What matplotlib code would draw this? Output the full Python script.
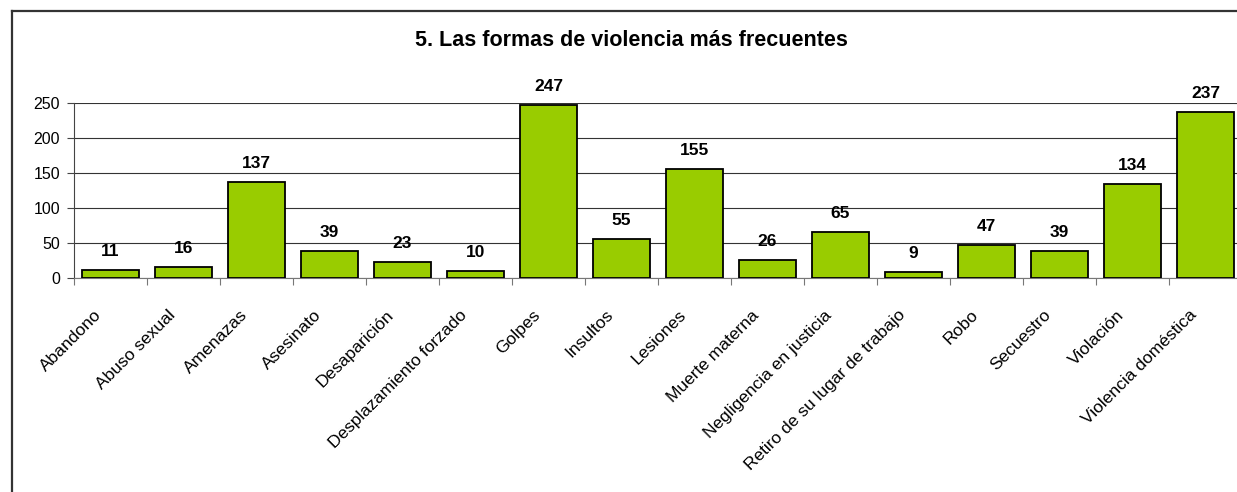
import matplotlib.pyplot as plt
from matplotlib.lines import Line2D
from matplotlib.transforms import ScaledTranslation

plt.rcParams['font.family'] = ['Liberation Sans', 'DejaVu Sans']

categorias = ["Abandono", "Abuso sexual", "Amenazas", "Asesinato", "Desaparición",
              "Desplazamiento forzado", "Golpes", "Insultos", "Lesiones", "Muerte materna",
              "Negligencia en justicia", "Retiro de su lugar de trabajo", "Robo",
              "Secuestro", "Violación", "Violencia doméstica"]
valores = [11, 16, 137, 39, 23, 10, 247, 55, 155, 26, 65, 9, 47, 39, 134, 237]
yticks = [0, 50, 100, 150, 200, 250]

fig = plt.figure(figsize=(12.37, 4.92), dpi=100)
ax = fig.add_axes([74 / 1237, 0.435, 1168 / 1237, 0.3557])

x = range(len(valores))
ax.bar(x, valores, width=0.77, color='#99CC00', edgecolor='black', linewidth=1.3, zorder=3)

for i, v in enumerate(valores):
    ax.annotate(str(v), (i, v), xytext=(0, 8), textcoords='offset points',
                ha='center', va='bottom', fontsize=12.5, fontweight='bold',
                annotation_clip=False)

ax.set_xlim(-0.5, len(valores) - 0.5)
ax.set_ylim(0, 250)
ax.set_yticks(yticks)
ax.yaxis.grid(True, color='#333333', linewidth=0.8, zorder=0)
ax.tick_params(axis='y', labelsize=11.5, direction='out', length=5, color='#444444', pad=5)

ax.set_xticks([i - 0.5 for i in range(len(valores) + 1)])
ax.set_xticklabels([])
ax.tick_params(axis='x', which='major', direction='out', length=5, color='#777777')
ax.set_xticks(list(x), minor=True)
ax.set_xticklabels(categorias, minor=True, rotation=45, ha='right', va='center',
                   rotation_mode='anchor', fontsize=12.5)
ax.tick_params(axis='x', which='minor', length=0, pad=25)
desplaza = ScaledTranslation(-0.11, 0, fig.dpi_scale_trans)
for lab in ax.get_xticklabels(minor=True):
    lab.set_transform(lab.get_transform() + desplaza)

for s in ['top', 'right']:
    ax.spines[s].set_visible(False)
ax.spines['bottom'].set_color('#777777')
ax.spines['left'].set_color('#444444')

fig.text(631 / 1237, 1 - 40 / 492, "5. Las formas de violencia más frecuentes",
         ha='center', va='center', fontsize=15.5, fontweight='bold')

# marco del gráfico
fig.add_artist(Line2D([12 / 1237, 12 / 1237], [0, 1 - 11 / 492], color='#333333', linewidth=1.6))
fig.add_artist(Line2D([12 / 1237, 1], [1 - 11 / 492, 1 - 11 / 492], color='#333333', linewidth=1.6))

fig.savefig('out.png', dpi=100)
